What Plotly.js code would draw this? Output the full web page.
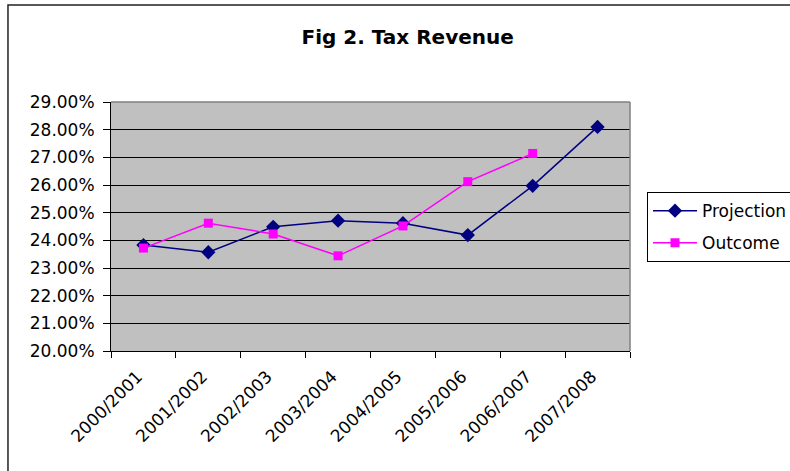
<!DOCTYPE html>
<html>
<head>
<meta charset="utf-8">
<script src="https://cdn.plot.ly/plotly-3.0.1.min.js"></script>
<style>html,body{margin:0;padding:0;background:#fff;}#chart{width:790px;height:471px;}</style>
</head>
<body>
<div id="chart"></div>
<script>
const categories = ["2000/2001","2001/2002","2002/2003","2003/2004","2004/2005","2005/2006","2006/2007","2007/2008"];
const projection = [0.2383, 0.2357, 0.2449, 0.2471, 0.2462, 0.2419, 0.2597, 0.2810];
const outcome = [0.2372, 0.2462, 0.2423, 0.2344, 0.2452, 0.2612, 0.2714, null];
const yTicks = [0.20,0.21,0.22,0.23,0.24,0.25,0.26,0.27,0.28,0.29];

const FONT = "DejaVu Sans, Liberation Sans, Arial, sans-serif";

const traces = [
  {x: categories, y: projection, name: "Projection", type: "scatter", mode: "lines+markers",
   legendgroup: "a",
   line: {color: "#000080", width: 1.5},
   marker: {symbol: "diamond", size: 11, color: "#000080"}},
  {x: categories, y: outcome, name: "Outcome", type: "scatter", mode: "lines+markers",
   legendgroup: "b",
   line: {color: "#FF00FF", width: 1.5},
   marker: {symbol: "square", size: 9, color: "#FF00FF"}}
];

const layout = {
  width: 790, height: 471,
  margin: {l: 111, r: 160, t: 102, b: 120, autoexpand: false},
  paper_bgcolor: "#ffffff",
  plot_bgcolor: "#C0C0C0",
  font: {family: FONT, size: 17, color: "#000"},
  title: {text: "<b>Fig 2. Tax Revenue</b>", font: {family: FONT, size: 20, color: "#000"},
          x: 0.516, xref: "container", xanchor: "center", y: 0.921, yref: "container", yanchor: "middle"},
  xaxis: {type: "category", range: [-0.5, 7.5], tickson: "boundaries",
          ticks: "outside", ticklen: 6, tickcolor: "#000", tickwidth: 1,
          ticklabelstandoff: 8, ticklabelshift: -6,
          showline: true, linecolor: "#000", linewidth: 1,
          showgrid: false, zeroline: false, tickangle: -45,
          tickfont: {family: FONT, size: 17, color: "#000"}},
  yaxis: {range: [0.20, 0.29], tickvals: yTicks, tickformat: ".2%",
          ticks: "outside", ticklen: 7, tickcolor: "#000", tickwidth: 1,
          ticklabelstandoff: 5,
          showline: true, linecolor: "#000", linewidth: 1,
          showgrid: true, gridcolor: "#000", gridwidth: 1, zeroline: false,
          tickfont: {family: FONT, size: 17, color: "#000"}},
  showlegend: true,
  legend: {xref: "container", yref: "container", x: 0.819, xanchor: "left", y: 0.592, yanchor: "top",
           bgcolor: "#fff", bordercolor: "#000", borderwidth: 1,
           traceorder: "grouped", tracegroupgap: 7, itemwidth: 44,
           font: {family: FONT, size: 17, color: "#000"}},
  shapes: [
    {type: "line", xref: "paper", yref: "paper", x0: 0, x1: 1, y0: 1, y1: 1,
     line: {color: "#808080", width: 1.5}, layer: "above"},
    {type: "line", xref: "paper", yref: "paper", x0: 1, x1: 1, y0: 0, y1: 1,
     line: {color: "#808080", width: 1.5}, layer: "above"},
    {type: "rect", xref: "paper", yref: "paper", x0: -0.1985, x1: 1.6, y0: -0.7, y1: 1.39,
     line: {color: "#222", width: 1.5}, fillcolor: "rgba(0,0,0,0)", layer: "below"}
  ]
};

Plotly.newPlot("chart", traces, layout, {displayModeBar: false, staticPlot: true});
</script>
</body>
</html>
